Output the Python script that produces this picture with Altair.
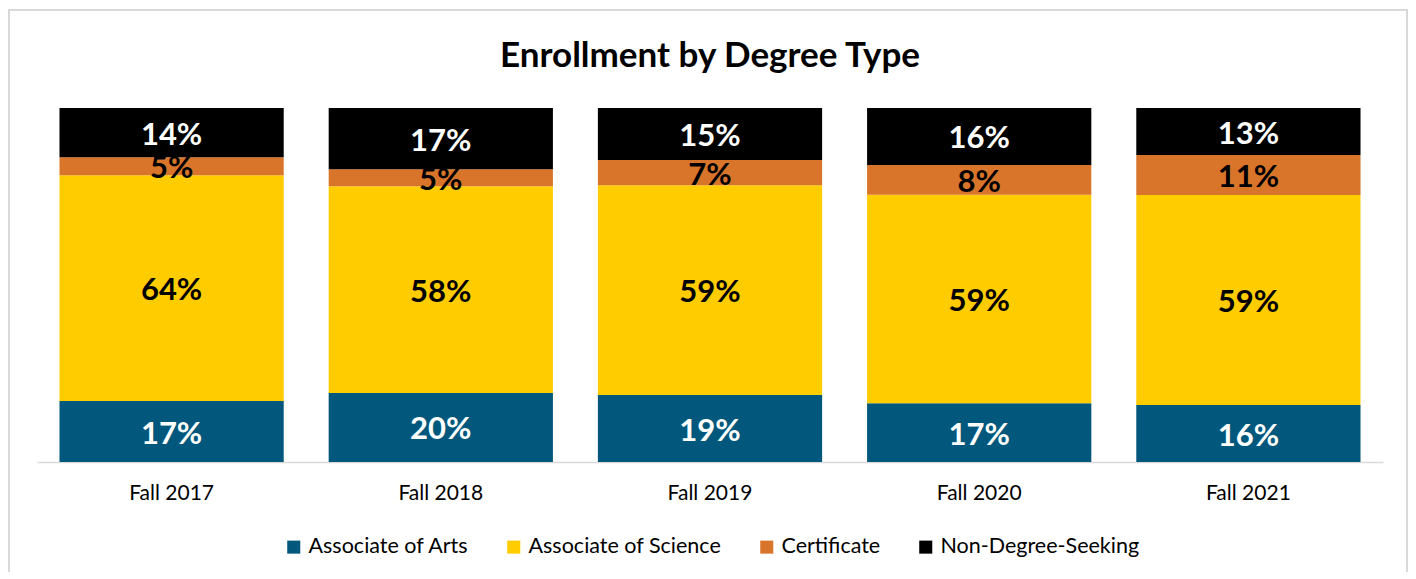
import altair as alt
import pandas as pd

years = ["Fall 2017", "Fall 2018", "Fall 2019", "Fall 2020", "Fall 2021"]
types = ["Associate of Arts", "Associate of Science", "Certificate", "Non-Degree-Seeking"]
assoc_arts = [17.2, 19.5, 18.9, 16.6, 16.1]
assoc_science = [63.8, 58.4, 59.3, 58.9, 59.3]
certificate = [5.1, 4.8, 7.1, 8.4, 11.3]
non_degree = [13.9, 17.3, 14.7, 16.1, 13.3]
colors = ["#02587C", "#FFCC00", "#D9752B", "#000000"]
light_label = ["Associate of Arts", "Non-Degree-Seeking"]
title_text = ["Enrollment by Degree Type"]

FONT = "Lato"

rows = []
for i, y in enumerate(years):
    for j, (t, vals) in enumerate(zip(types, [assoc_arts, assoc_science, certificate, non_degree])):
        rows.append(dict(year=y, type=t, value=vals[i], order=j))
df = pd.DataFrame(rows)

base = (
    alt.Chart(df)
    .transform_stack(
        stack="value",
        groupby=["year"],
        as_=["v0", "v1"],
        sort=[alt.SortField("order", order="ascending")],
        offset="normalize",
    )
    .transform_calculate(
        mid="(datum.v0 + datum.v1) / 2",
        label="format(datum.value, '.0f') + '%'",
    )
)

xenc = alt.X(
    "year:N",
    sort=years,
    scale=alt.Scale(paddingInner=0.167, paddingOuter=0.0835),
    axis=alt.Axis(title=None, labelAngle=0, ticks=False, labelPadding=20,
                  labelFontSize=21, labelFont=FONT, labelColor="#000000",
                  domainColor="#d9d9d9", domainWidth=1.5),
)

bars = base.mark_bar().encode(
    x=xenc,
    y=alt.Y("v0:Q", scale=alt.Scale(domain=[0, 1]), axis=None),
    y2="v1:Q",
    color=alt.Color(
        "type:N",
        scale=alt.Scale(domain=types, range=colors),
        legend=alt.Legend(
            title=None, orient="none", direction="horizontal",
            legendX=246, legendY=428,
            symbolType="square", symbolSize=170, symbolStrokeWidth=0,
            labelFontSize=21.5, labelFont=FONT, labelColor="#000000",
            labelOffset=4, columnPadding=34, labelLimit=400,
        ),
    ),
)

txt_white = base.transform_filter(
    alt.FieldOneOfPredicate(field="type", oneOf=light_label)
).mark_text(fontSize=31, fontWeight="bold", font=FONT, color="white", baseline="middle", dy=3).encode(
    x=alt.X("year:N", sort=years), y="mid:Q", text="label:N"
)

txt_black = base.transform_filter(
    {"not": alt.FieldOneOfPredicate(field="type", oneOf=light_label)}
).mark_text(fontSize=31, fontWeight="bold", font=FONT, color="black", baseline="middle", dy=3).encode(
    x=alt.X("year:N", sort=years), y="mid:Q", text="label:N"
)

frame = alt.Chart(pd.DataFrame({"f": [0]})).mark_rect(
    fillOpacity=0, stroke="#d9d9d9", strokeWidth=2
).encode(x=alt.value(-28), x2=alt.value(1370), y=alt.value(-98), y2=alt.value(600))

title = alt.Chart(pd.DataFrame({"t": title_text})).mark_text(
    fontSize=35, fontWeight="bold", font=FONT, color="#000000",
    align="center", baseline="middle",
).encode(x=alt.value(673), y=alt.value(-52), text="t:N")

chart = (
    alt.layer(frame, bars, txt_white, txt_black, title)
    .properties(
        width=1346,
        height=354,
        padding={"left": 29, "top": 100, "right": 25, "bottom": 110},
        autosize=alt.AutoSizeParams(type="none"),
    )
    .configure_view(stroke=None)
)

chart.save("out.html", embed_options={"renderer": "svg", "actions": False})
